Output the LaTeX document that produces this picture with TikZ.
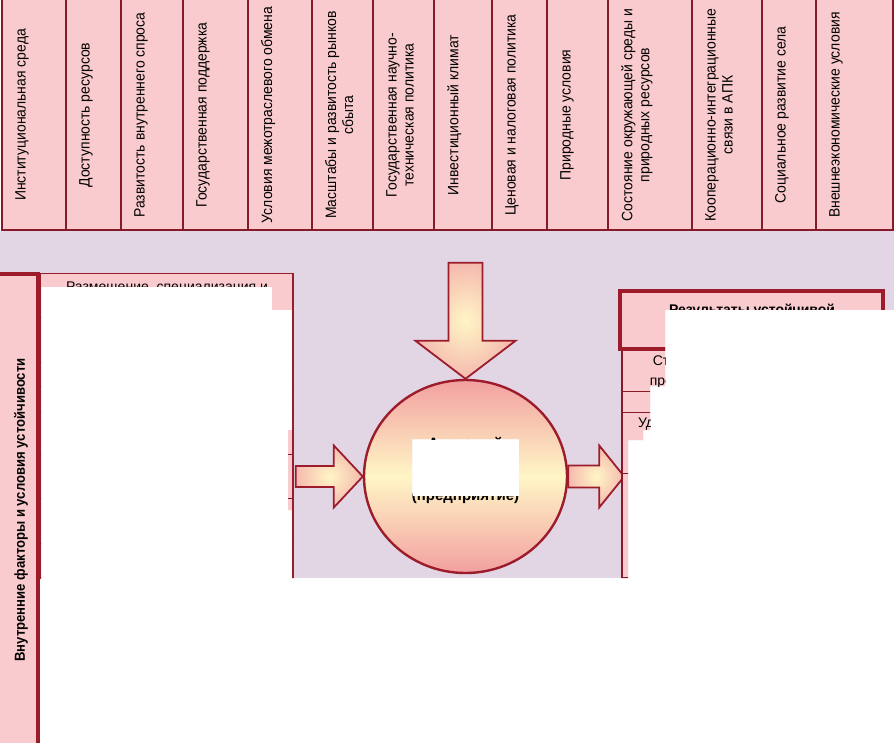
\documentclass[tikz,border=0pt]{standalone}
\usepackage{fontspec}
\setmainfont{Liberation Sans}
\newfontfamily\narrowbold{Liberation Sans}[FakeStretch=0.905]
\newfontfamily\cellfont{Liberation Sans}[FakeStretch=0.93]
\usetikzlibrary{shapes.geometric}
\definecolor{cellpink}{HTML}{F9CBCE}
\definecolor{bglilac}{HTML}{E3D6E4}
\definecolor{darkred}{HTML}{9C1C2C}
\definecolor{cellline}{HTML}{861A29}
\definecolor{ballpink}{HTML}{F2A0A0}
\definecolor{ballcream}{HTML}{FFF6C6}
\definecolor{arrowpink}{HTML}{F5B9AE}

\begin{document}
\begin{tikzpicture}[x=1pt,y=-1pt,
  cellbox/.style={fill=cellpink,draw=cellline,line width=1.3pt},
  celltext/.style={rotate=90,anchor=north,inner sep=0pt,align=center,font=\cellfont\fontsize{15}{17}\selectfont},
  listtext/.style={inner sep=0pt,align=center,font=\fontsize{14}{20}\selectfont},
  fatarrow/.style={draw=darkred,line width=1.8pt,line join=miter,inner color=ballcream,outer color=arrowpink}]
\useasboundingbox (0,0) rectangle (894,743);
\begin{scope}
\clip (0,0) -- (0,743) -- (894,743) -- (894,0) -- cycle
  (41,287) -- (272,287) -- (272,310) -- (292,310) -- (292,430) -- (288,430) -- (288,510) -- (292,510)
  -- (292,578) -- (628,578) -- (628,440) -- (643,440) -- (643,430) -- (650,430) -- (650,386)
  -- (665,386) -- (665,310) -- (894,310) -- (894,743) -- (41,743) -- cycle
  (412,439) -- (519,439) -- (519,496) -- (412,496) -- cycle;
\fill[bglilac] (0,231) rectangle (894,578);
\foreach \l/\r/\txt [count=\i] in {
  2/66/{Институциональная среда},
  66/121/{Доступность ресурсов},
  121/183/{Развитость внутреннего спроса},
  183/248/{Государственная поддержка},
  248/312/{Условия межотраслевого обмена},
  312/373/{Масштабы и развитость рынков\\сбыта},
  373/434/{Государственная научно-\\техническая политика},
  434/492/{Инвестиционный климат},
  492/547/{Ценовая и налоговая политика},
  547/608/{Природные условия},
  608/692/{Состояние окружающей среды и\\природных ресурсов},
  692/762/{Кооперационно-интеграционные\\связи в АПК},
  762/816/{Социальное развитие села},
  816/893/{Внешнеэкономические условия}}
{
  \draw[cellbox] (\l,-3) rectangle (\r,230);
  \node[celltext] (ext\i) at (\l+13,115) {\txt};
}
\fill[cellpink] (0,273) rectangle (38,743);
\draw[darkred,line width=4pt] (0,274.5) -- (40,274.5) (38,272.5) -- (38,743);
\node[rotate=90,inner sep=0pt,font=\narrowbold\bfseries\fontsize{14.5}{16}\selectfont] (inner) at (21,510) {Внутренние факторы и условия устойчивости};
\draw[fill=cellpink,draw=darkred,line width=1.3pt] (40,273.5) rectangle (293,578);
\foreach \y in {317,362,386,411,454,498,543}
  \draw[cellline,line width=1pt] (40,\y) -- (293,\y);
\node[listtext,anchor=north,font=\fontsize{14}{19}\selectfont] (place) at (167,281.5) {Размещение, специализация и\\концентрация производства};
\node[ellipse,draw=darkred,line width=2.4pt,minimum width=203,minimum height=193,inner sep=0pt,
  top color=ballpink,bottom color=ballpink,middle color=ballcream] (firm) at (465.5,476.5) {};
\node[inner sep=0pt,align=center,font=\bfseries\fontsize{15}{26}\selectfont] (firmtext) at (465.5,470.5) {Аграрный\\субъект\\(предприятие)};
\draw[fatarrow] (firm.north) -- ++(-50,-38) -- ++(33,0) -- ++(0,-78) -- ++(34,0) -- ++(0,78) -- ++(33,0) -- cycle;
\draw[fatarrow] (firm.west) -- ++(-29,-31) -- ++(0,20.5) -- ++(-38,0) -- ++(0,21) -- ++(38,0) -- ++(0,20.5) -- cycle;
\draw[fatarrow] (firm.east) ++(0,-11) -- ++(31,0) -- ++(0,-20) -- ++(25,31) -- ++(-25,31) -- ++(0,-20) -- ++(-31,0) -- cycle;
\draw[fill=cellpink,draw=cellline,line width=1.3pt] (622,349) rectangle (883,578);
\foreach \y in {391,412,473}
  \draw[cellline,line width=1pt] (622,\y) -- (883,\y);
\draw[fill=cellpink,draw=darkred,line width=4pt] (620,291) rectangle (883,349);
\node[inner sep=0pt,align=center,font=\bfseries\fontsize{14}{18}\selectfont] (result) at (752,320) {Результаты устойчивой\\деятельности};
\node[listtext,anchor=north] (stab) at (730,355) {Стабильность развития\\производства продукции};
\node[listtext,anchor=north] (needs) at (738,417) {Удовлетворение потребностей};
\end{scope}
\end{tikzpicture}
\end{document}
